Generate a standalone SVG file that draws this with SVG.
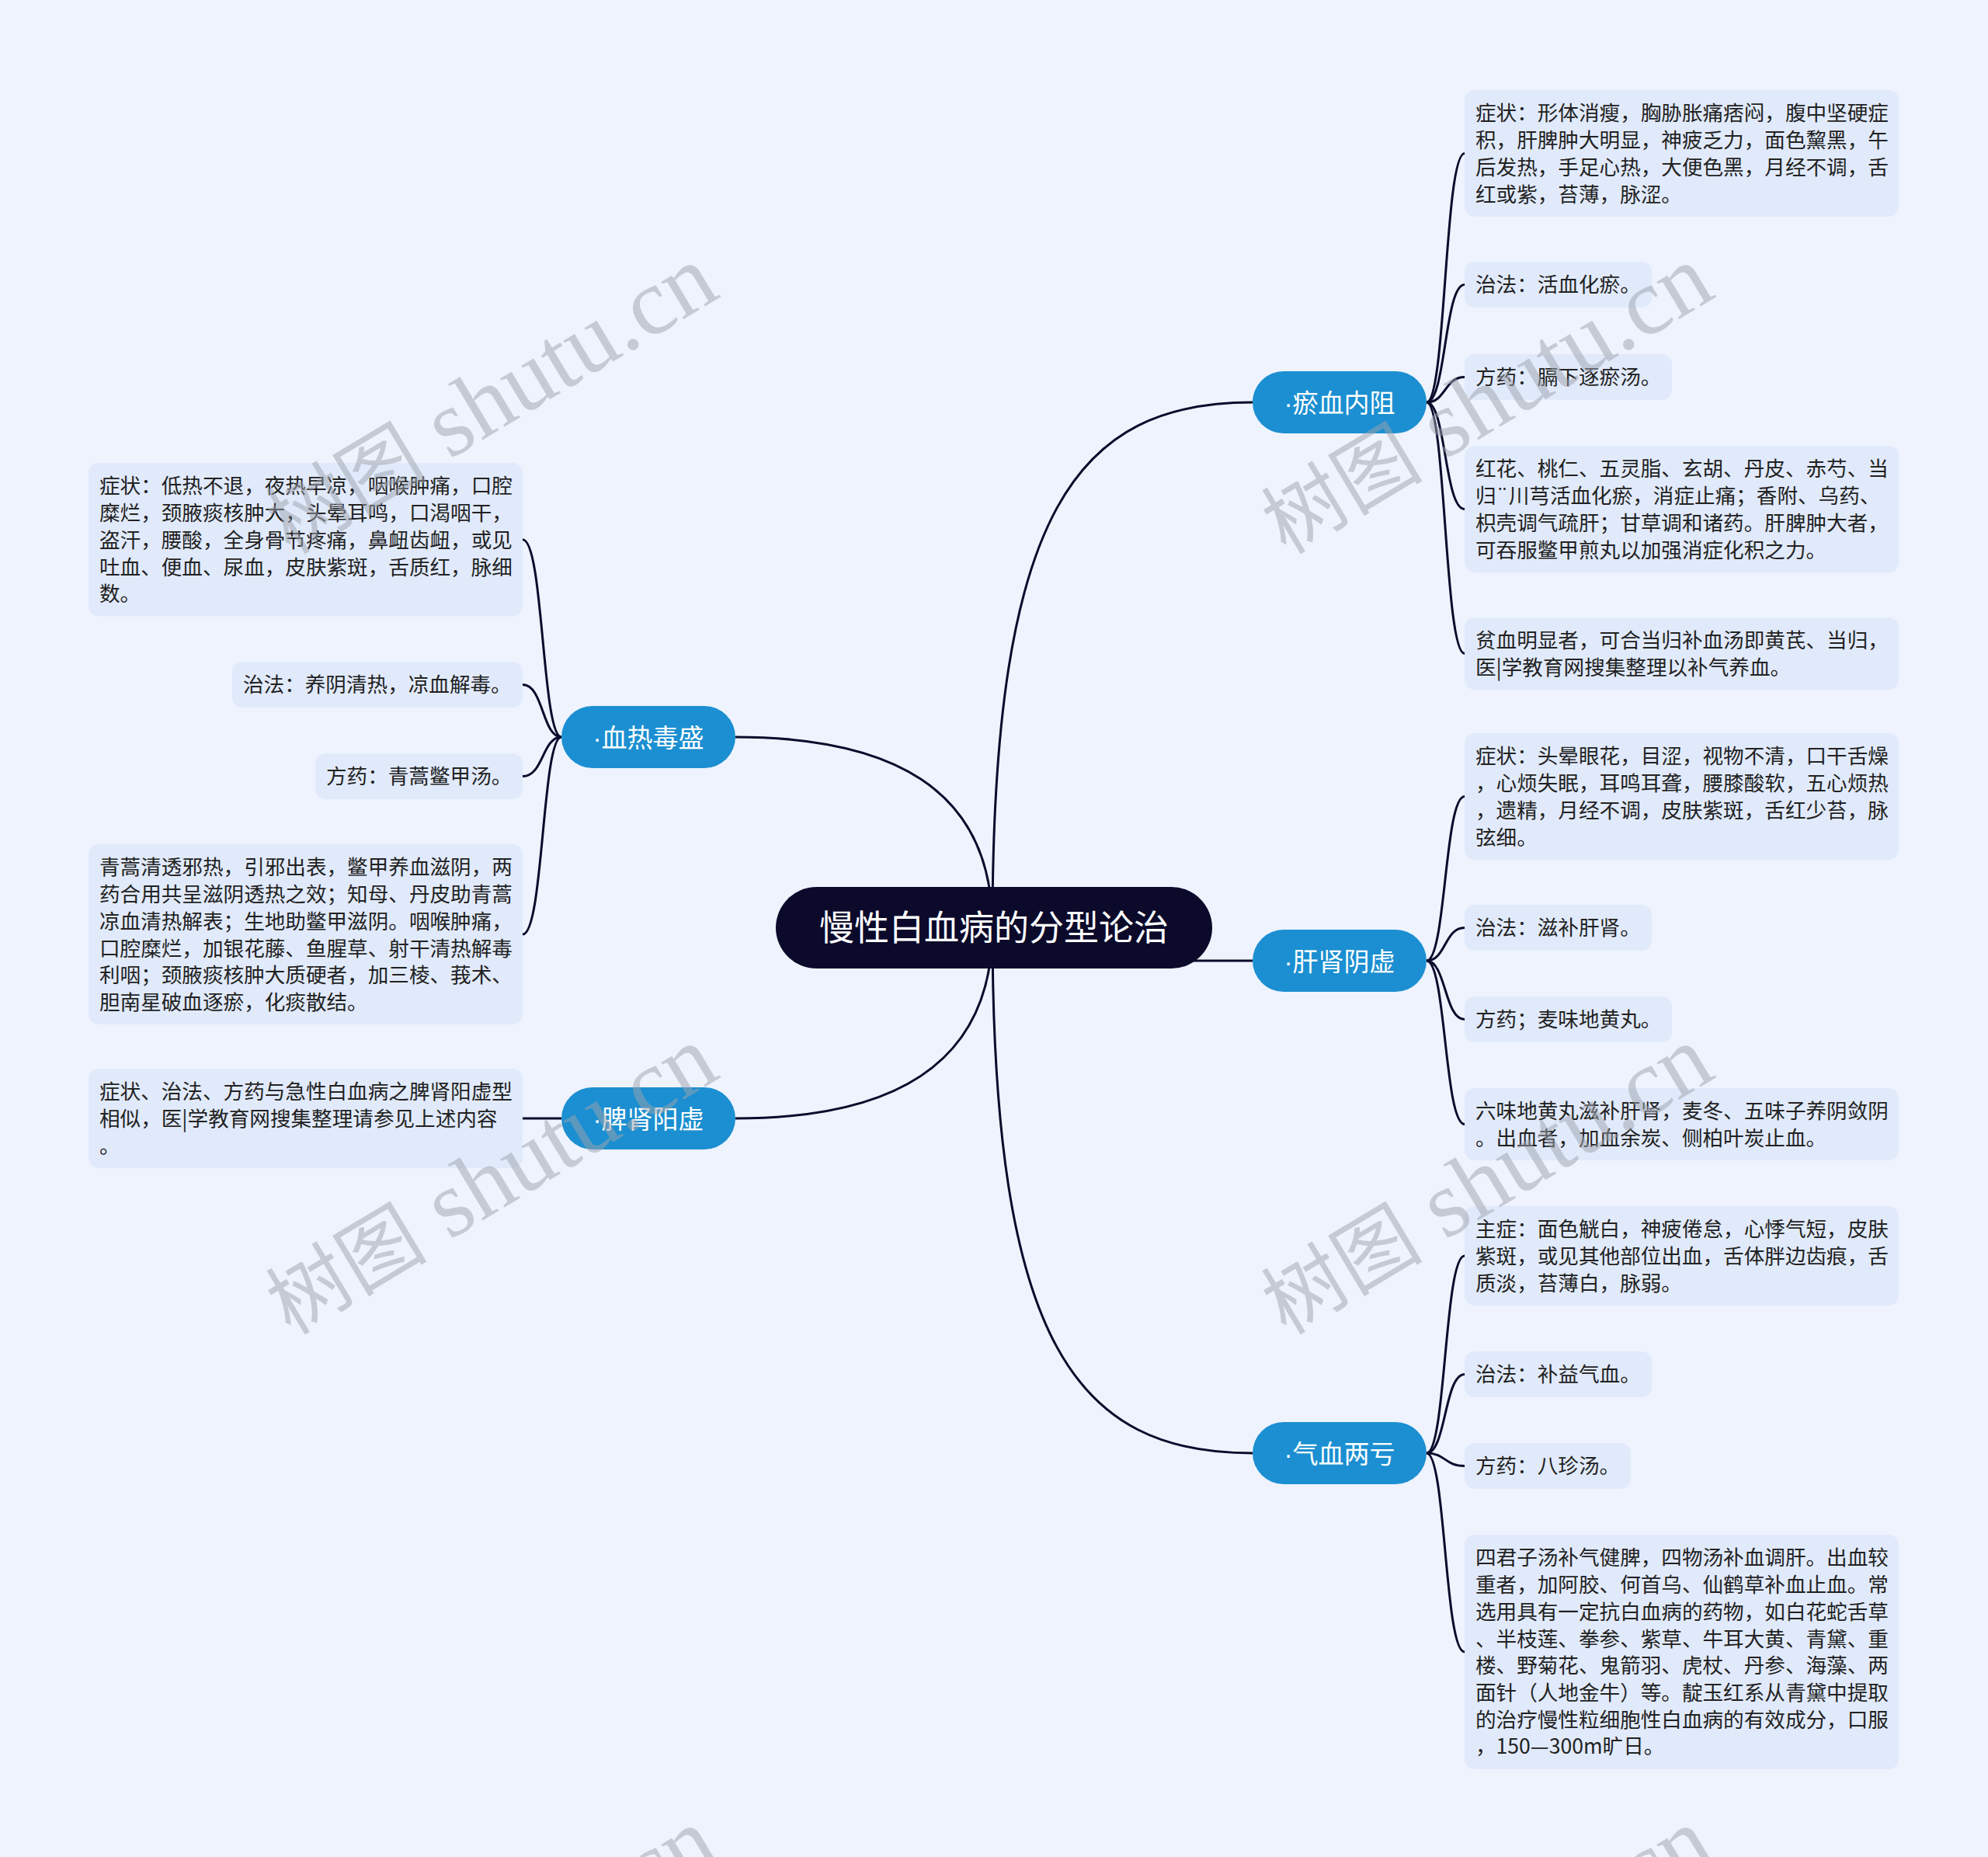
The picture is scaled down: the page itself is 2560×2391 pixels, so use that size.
<svg xmlns="http://www.w3.org/2000/svg" width="2560" height="2391" viewBox="0 0 2560 2391">
<style>
.bg{fill:#eef3fe}
.leaf rect{fill:#e1eafb}
.leaf text{font-family:"Noto Sans CJK SC","Noto Sans",sans-serif;font-size:26.6px;fill:#222222}
.node rect{fill:#1b8fd1}
.node text{font-family:"Noto Sans CJK SC","Noto Sans",sans-serif;font-size:33px;fill:#ffffff;text-anchor:middle}
.dot{font-family:"Liberation Sans",sans-serif}
.root rect{fill:#0b0a2b}
.root text{font-family:"Noto Sans CJK SC","Noto Sans",sans-serif;font-size:45px;fill:#ffffff;text-anchor:middle}
.links path{fill:none;stroke:#0b0a2b;stroke-width:3}
.wm text{font-family:"Liberation Serif","Noto Sans CJK SC",serif;font-size:122px;fill:#9ea3ad;opacity:0.5;text-anchor:middle}
.wm .cjk{font-family:"Noto Sans CJK SC",serif;font-size:104px}
</style>
<rect class="bg" x="0" y="0" width="2560" height="2391"/>
<g class="links" id="connectors">
<path d="M1278,1194 C1278,655 1388,518 1613,518"/>
<path d="M1500,1237 H1613"/>
<path d="M1278,1194 C1278,1733 1388,1871 1613,1871"/>
<path d="M1278,1194 C1278,1012 1143,949 947,949"/>
<path d="M1278,1194 C1278,1376 1143,1440 947,1440"/>
<path d="M1837,518 C1862,518 1860,197.5 1886,197.5"/>
<path d="M1837,518 C1862,518 1860,366.5 1886,366.5"/>
<path d="M1837,518 C1862,518 1860,485.5 1886,485.5"/>
<path d="M1837,518 C1862,518 1860,655.5 1886,655.5"/>
<path d="M1837,518 C1862,518 1860,841.5 1886,841.5"/>
<path d="M1837,1237 C1862,1237 1860,1025.5 1886,1025.5"/>
<path d="M1837,1237 C1862,1237 1860,1194.5 1886,1194.5"/>
<path d="M1837,1237 C1862,1237 1860,1312.5 1886,1312.5"/>
<path d="M1837,1237 C1862,1237 1860,1447.5 1886,1447.5"/>
<path d="M1837,1871 C1862,1871 1860,1617 1886,1617"/>
<path d="M1837,1871 C1862,1871 1860,1769.5 1886,1769.5"/>
<path d="M1837,1871 C1862,1871 1860,1887.5 1886,1887.5"/>
<path d="M1837,1871 C1862,1871 1860,2127 1886,2127"/>
<path d="M723,949 C698,949 700,694.75 673,694.75"/>
<path d="M723,949 C698,949 700,881.5 673,881.5"/>
<path d="M723,949 C698,949 700,999.5 673,999.5"/>
<path d="M723,949 C698,949 700,1203 673,1203"/>
<path d="M723,1440 H673"/>
</g>
<g class="root" id="root"><rect x="999" y="1142" width="562" height="105" rx="52.5"/><text x="1280" y="1211">慢性白血病的分型论治</text></g>
<g class="node" id="n1"><rect x="1613" y="478" width="224" height="80" rx="40"/><text x="1725" y="530.5"><tspan class="dot">·</tspan>瘀血内阻</text></g>
<g class="node" id="n2"><rect x="1613" y="1197" width="224" height="80" rx="40"/><text x="1725" y="1249.5"><tspan class="dot">·</tspan>肝肾阴虚</text></g>
<g class="node" id="n3"><rect x="1613" y="1831" width="224" height="80" rx="40"/><text x="1725" y="1883.5"><tspan class="dot">·</tspan>气血两亏</text></g>
<g class="node" id="n4"><rect x="723" y="909" width="224" height="80" rx="40"/><text x="835" y="961.5"><tspan class="dot">·</tspan>血热毒盛</text></g>
<g class="node" id="n5"><rect x="723" y="1400" width="224" height="80" rx="40"/><text x="835" y="1452.5"><tspan class="dot">·</tspan>脾肾阳虚</text></g>
<g class="leaf" id="r1"><rect x="1886" y="116" width="559" height="163" rx="13"/><text><tspan x="1900" y="155.4">症状：形体消瘦，胸胁胀痛痞闷，腹中坚硬症</tspan><tspan x="1900" y="190.1">积，肝脾肿大明显，神疲乏力，面色黧黑，午</tspan><tspan x="1900" y="224.8">后发热，手足心热，大便色黑，月经不调，舌</tspan><tspan x="1900" y="259.5">红或紫，苔薄，脉涩。</tspan></text></g>
<g class="leaf" id="r2"><rect x="1886" y="337" width="241" height="59" rx="13"/><text x="1900" y="376.4">治法：活血化瘀。</text></g>
<g class="leaf" id="r3"><rect x="1886" y="456" width="267" height="59" rx="13"/><text x="1900" y="495.4">方药：膈下逐瘀汤。</text></g>
<g class="leaf" id="r4"><rect x="1886" y="574" width="559" height="163" rx="13"/><text><tspan x="1900" y="613.4">红花、桃仁、五灵脂、玄胡、丹皮、赤芍、当</tspan><tspan x="1900" y="648.1">归¨川芎活血化瘀，消症止痛；香附、乌药、</tspan><tspan x="1900" y="682.8">枳壳调气疏肝；甘草调和诸药。肝脾肿大者，</tspan><tspan x="1900" y="717.5">可吞服鳖甲煎丸以加强消症化积之力。</tspan></text></g>
<g class="leaf" id="r5"><rect x="1886" y="795" width="559" height="93" rx="13"/><text><tspan x="1900" y="834.4">贫血明显者，可合当归补血汤即黄芪、当归，</tspan><tspan x="1900" y="869.1">医|学教育网搜集整理以补气养血。</tspan></text></g>
<g class="leaf" id="r6"><rect x="1886" y="944" width="559" height="163" rx="13"/><text><tspan x="1900" y="983.4">症状：头晕眼花，目涩，视物不清，口干舌燥</tspan><tspan x="1900" y="1018.1">，心烦失眠，耳鸣耳聋，腰膝酸软，五心烦热</tspan><tspan x="1900" y="1052.8">，遗精，月经不调，皮肤紫斑，舌红少苔，脉</tspan><tspan x="1900" y="1087.5">弦细。</tspan></text></g>
<g class="leaf" id="r7"><rect x="1886" y="1165" width="241" height="59" rx="13"/><text x="1900" y="1204.4">治法：滋补肝肾。</text></g>
<g class="leaf" id="r8"><rect x="1886" y="1283" width="267" height="59" rx="13"/><text x="1900" y="1322.4">方药；麦味地黄丸。</text></g>
<g class="leaf" id="r9"><rect x="1886" y="1401" width="559" height="93" rx="13"/><text><tspan x="1900" y="1440.4">六味地黄丸滋补肝肾，麦冬、五味子养阴敛阴</tspan><tspan x="1900" y="1475.1">。出血者，加血余炭、侧柏叶炭止血。</tspan></text></g>
<g class="leaf" id="r10"><rect x="1886" y="1553" width="559" height="128" rx="13"/><text><tspan x="1900" y="1592.4">主症：面色觥白，神疲倦怠，心悸气短，皮肤</tspan><tspan x="1900" y="1627.1">紫斑，或见其他部位出血，舌体胖边齿痕，舌</tspan><tspan x="1900" y="1661.8">质淡，苔薄白，脉弱。</tspan></text></g>
<g class="leaf" id="r11"><rect x="1886" y="1740" width="241" height="59" rx="13"/><text x="1900" y="1779.4">治法：补益气血。</text></g>
<g class="leaf" id="r12"><rect x="1886" y="1858" width="214" height="59" rx="13"/><text x="1900" y="1897.4">方药：八珍汤。</text></g>
<g class="leaf" id="r13"><rect x="1886" y="1976" width="559" height="302" rx="13"/><text><tspan x="1900" y="2015.4">四君子汤补气健脾，四物汤补血调肝。出血较</tspan><tspan x="1900" y="2050.1">重者，加阿胶、何首乌、仙鹤草补血止血。常</tspan><tspan x="1900" y="2084.8">选用具有一定抗白血病的药物，如白花蛇舌草</tspan><tspan x="1900" y="2119.5">、半枝莲、拳参、紫草、牛耳大黄、青黛、重</tspan><tspan x="1900" y="2154.2">楼、野菊花、鬼箭羽、虎杖、丹参、海藻、两</tspan><tspan x="1900" y="2188.9">面针（人地金牛）等。靛玉红系从青黛中提取</tspan><tspan x="1900" y="2223.6">的治疗慢性粒细胞性白血病的有效成分，口服</tspan><tspan x="1900" y="2258.3">，150—300m旷日。</tspan></text></g>
<g class="leaf" id="l1"><rect x="114" y="596" width="559" height="197.5" rx="13"/><text><tspan x="128" y="635.4">症状：低热不退，夜热早凉，咽喉肿痛，口腔</tspan><tspan x="128" y="670.1">糜烂，颈腋痰核肿大，头晕耳鸣，口渴咽干，</tspan><tspan x="128" y="704.8">盗汗，腰酸，全身骨节疼痛，鼻衄齿衄，或见</tspan><tspan x="128" y="739.5">吐血、便血、尿血，皮肤紫斑，舌质红，脉细</tspan><tspan x="128" y="774.2">数。</tspan></text></g>
<g class="leaf" id="l2"><rect x="299" y="852" width="374" height="59" rx="13"/><text x="313" y="891.4">治法：养阴清热，凉血解毒。</text></g>
<g class="leaf" id="l3"><rect x="406" y="970" width="267" height="59" rx="13"/><text x="420" y="1009.4">方药：青蒿鳖甲汤。</text></g>
<g class="leaf" id="l4"><rect x="114" y="1087" width="559" height="232" rx="13"/><text><tspan x="128" y="1126.4">青蒿清透邪热，引邪出表，鳖甲养血滋阴，两</tspan><tspan x="128" y="1161.1">药合用共呈滋阴透热之效；知母、丹皮助青蒿</tspan><tspan x="128" y="1195.8">凉血清热解表；生地助鳖甲滋阴。咽喉肿痛，</tspan><tspan x="128" y="1230.5">口腔糜烂，加银花藤、鱼腥草、射干清热解毒</tspan><tspan x="128" y="1265.2">利咽；颈腋痰核肿大质硬者，加三棱、莪术、</tspan><tspan x="128" y="1299.9">胆南星破血逐瘀，化痰散结。</tspan></text></g>
<g class="leaf" id="l5"><rect x="114" y="1376" width="559" height="128" rx="13"/><text><tspan x="128" y="1415.4">症状、治法、方药与急性白血病之脾肾阳虚型</tspan><tspan x="128" y="1450.1">相似，医|学教育网搜集整理请参见上述内容</tspan><tspan x="128" y="1484.8">。</tspan></text></g>
<g class="wm">
<text transform="translate(652,548) rotate(-31)"><tspan class="cjk">树图</tspan> shutu.cn</text>
<text transform="translate(1934,548) rotate(-31)"><tspan class="cjk">树图</tspan> shutu.cn</text>
<text transform="translate(652,1553) rotate(-31)"><tspan class="cjk">树图</tspan> shutu.cn</text>
<text transform="translate(1934,1553) rotate(-31)"><tspan class="cjk">树图</tspan> shutu.cn</text>
<text transform="translate(652,2560) rotate(-31)"><tspan class="cjk">树图</tspan> shutu.cn</text>
<text transform="translate(1934,2560) rotate(-31)"><tspan class="cjk">树图</tspan> shutu.cn</text>
</g>
</svg>
